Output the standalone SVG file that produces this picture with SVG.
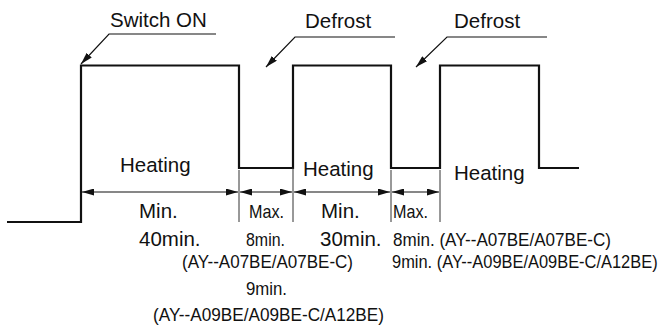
<svg xmlns="http://www.w3.org/2000/svg" width="671" height="329" viewBox="0 0 671 329">
<style>
text{font-family:"Liberation Sans",Arial,sans-serif;fill:#111}
.big{font-size:20.5px}
.sm{font-size:19px}
.wave{fill:none;stroke:#111;stroke-width:2.2}
.dim{stroke:#111;stroke-width:1.2;fill:none}
.tick{stroke:#333;stroke-width:1}
.lead{stroke:#111;stroke-width:1.2;fill:none}
</style>
<defs>
<marker id="ah" viewBox="0 0 12 7" refX="12" refY="3.5" markerWidth="12" markerHeight="7" markerUnits="userSpaceOnUse" orient="auto-start-reverse">
<path d="M0,0 L12,3.5 L0,7z" fill="#111"/>
</marker>
</defs>
<rect width="671" height="329" fill="#fff"/>
<g id="waveform">
<path class="wave" d="M7,222 H81 V65.5 H239 V168 H293 V65.5 H391 V168 H440 V65.5 H539 V168 H579"/>
</g>
<g id="connectors">
<line class="tick" x1="239" y1="170" x2="239" y2="222"/>
<line class="tick" x1="293" y1="168" x2="293" y2="222"/>
<line class="tick" x1="391" y1="170" x2="391" y2="222"/>
<line class="tick" x1="440" y1="170" x2="440" y2="222"/>
<line class="dim" x1="82" y1="192" x2="238" y2="192" marker-start="url(#ah)" marker-end="url(#ah)"/>
<line class="dim" x1="240" y1="192" x2="292" y2="192" marker-start="url(#ah)" marker-end="url(#ah)"/>
<line class="dim" x1="294" y1="192" x2="390" y2="192" marker-start="url(#ah)" marker-end="url(#ah)"/>
<line class="dim" x1="392" y1="192" x2="439" y2="192" marker-start="url(#ah)" marker-end="url(#ah)"/>
<polyline class="lead" points="216,34 109,34 81,64" marker-end="url(#ah)"/>
<polyline class="lead" points="395,37 295,37 266,67" marker-end="url(#ah)"/>
<polyline class="lead" points="547,37 447,37 416,67" marker-end="url(#ah)"/>
</g>
<g id="callouts">
<text class="big" x="110" y="27">Switch ON</text>
<text class="big" x="305" y="28">Defrost</text>
<text class="big" x="454" y="28">Defrost</text>
</g>
<g id="heating-labels">
<text class="big" x="120" y="172">Heating</text>
<text class="big" x="303" y="176">Heating</text>
<text class="big" x="454" y="180">Heating</text>
</g>
<g id="durations">
<text class="big" x="139" y="218">Min.</text>
<text class="big" x="321" y="218">Min.</text>
<text class="sm" x="249" y="218" textLength="35" lengthAdjust="spacingAndGlyphs">Max.</text>
<text class="sm" x="393" y="218" textLength="35" lengthAdjust="spacingAndGlyphs">Max.</text>
<text class="big" x="139" y="246">40min.</text>
<text class="big" x="320" y="246">30min.</text>
<text class="sm" x="246" y="246" textLength="39" lengthAdjust="spacingAndGlyphs">8min.</text>
<text class="sm" x="393" y="246" textLength="218" lengthAdjust="spacingAndGlyphs">8min. (AY--A07BE/A07BE-C)</text>
<text class="sm" x="182" y="268" textLength="171" lengthAdjust="spacingAndGlyphs">(AY--A07BE/A07BE-C)</text>
<text class="sm" transform="translate(392,268) scale(0.865,1)">9min. (AY--A09BE/A09BE-C/A12BE)</text>
<text class="sm" x="246" y="295" textLength="41" lengthAdjust="spacingAndGlyphs">9min.</text>
<text class="sm" x="153" y="321" textLength="231" lengthAdjust="spacingAndGlyphs">(AY--A09BE/A09BE-C/A12BE)</text>
</g>
</svg>
